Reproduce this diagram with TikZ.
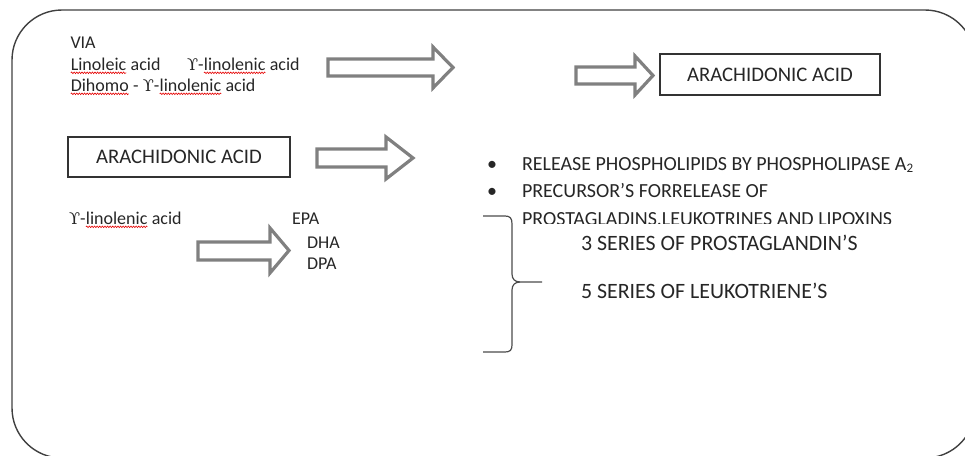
\documentclass[tikz,border=0pt]{standalone}
\usepackage{fontspec}
\usepackage{graphicx}
\setmainfont{Carlito}
\newfontfamily\upsfont{DejaVu Serif}
\usetikzlibrary{decorations.pathmorphing}
\newcommand\ups{{\upsfont\scalebox{0.9}{ϒ}}}
\newcommand\wavy[1]{\tikz[baseline=(W.base),x=1pt,y=1pt]{\node[inner sep=0pt,outer sep=0pt,anchor=base](W){#1};\draw[red!90!black,line width=0.6pt,decorate,decoration={snake,amplitude=0.8pt,segment length=2.6pt}]([yshift=-2.8pt]W.base west)--([yshift=-2.8pt]W.base east);}}
\begin{document}
\begin{tikzpicture}[x=1pt,y=-1pt,
  txt/.style={anchor=base west,inner sep=0pt,outer sep=0pt,text=black!85},
  small/.style={txt,font=\fontsize{18}{21}\selectfont},
  mid/.style={txt,font=\fontsize{20}{24}\selectfont},
  big/.style={txt,font=\fontsize{21.9}{26}\selectfont},
  boxed/.style={draw=black!80,line width=1.1pt,inner sep=0pt,font=\fontsize{20.7}{24}\selectfont,text=black!85},
  blockarrow/.style={draw=black!50,line width=3.2pt,fill=white,line join=miter},
  brace/.style={draw=black!70,line width=1.2pt}]
\useasboundingbox (0,0) rectangle (965,455);
\clip (0,0) rectangle (965,455);
% outer frame
\draw[black!75,line width=1.4pt,rounded corners=50pt] (12,10) rectangle (975,458);

% top-left text block
\node[small] (via) at (70.5,48) {VIA};
\node[small] (lin) at (70.5,70) {\wavy{Linoleic} acid};
\node[small] (gla) at (187,70) {\ups-\wavy{linolenic} acid};
\node[small] (dgla) at (70.5,91) {\wavy{Dihomo} - \ups-\wavy{linolenic} acid};

% arrow 1
\draw[blockarrow] (328,59) -- (433,59) -- (433,47) -- (453,67.5) -- (433,88) -- (433,76) -- (328,76) -- cycle;
% arrow 2
\draw[blockarrow] (576,67) -- (635,67) -- (635,56) -- (653,75.5) -- (635,95) -- (635,84) -- (576,84) -- cycle;
% top right box
\node[boxed,minimum width=220pt,minimum height=41pt] (aa1) at (770,74.5) {ARACHIDONIC ACID};

% second row
\node[boxed,minimum width=222pt,minimum height=40pt] (aa2) at (179,157) {ARACHIDONIC ACID};
\draw[blockarrow] (317,149) -- (386,149) -- (386,137) -- (413,158) -- (386,179) -- (386,167) -- (317,167) -- cycle;

% bullets
\node[mid,anchor=base] (b1) at (492,170) {•};
\node[mid] (t1) at (522,170) {RELEASE PHOSPHOLIPIDS BY PHOSPHOLIPASE A\raisebox{-0.25ex}{\fontsize{13}{15}\selectfont 2}};
\node[mid,anchor=base] (b2) at (492,197) {•};
\node[mid] (t2) at (522,197) {PRECURSOR’S FORRELEASE OF};
\begin{scope}
\clip (500,200) rectangle (965,223.5);
\node[mid] (t3) at (522,225) {PROSTAGLADINS,LEUKOTRINES AND LIPOXINS};
\end{scope}

% lower left
\node[small] (gla2) at (69,224) {\ups-\wavy{linolenic} acid};
\node[small] (epa) at (292,224) {EPA};
\node[small] (dha) at (307,248) {DHA};
\node[small] (dpa) at (307,269) {DPA};
\draw[blockarrow] (198,242) -- (270,242) -- (270,228) -- (289,250.5) -- (270,273) -- (270,260) -- (198,260) -- cycle;

% brace
\draw[brace] (483,216) -- (505,216) .. controls (510,216) and (512,218) .. (512,224) -- (512,274) .. controls (512,279) and (515,282) .. (520,282) -- (542,282);
\draw[brace] (520,282) .. controls (515,282) and (512,285) .. (512,290) -- (512,345) .. controls (512,350) and (510,352) .. (505,352) -- (483,352);

% series
\node[big] (s3) at (581,250) {3 SERIES OF PROSTAGLANDIN’S};
\node[big] (s5) at (581,298) {5 SERIES OF LEUKOTRIENE’S};
\end{tikzpicture}
\end{document}
